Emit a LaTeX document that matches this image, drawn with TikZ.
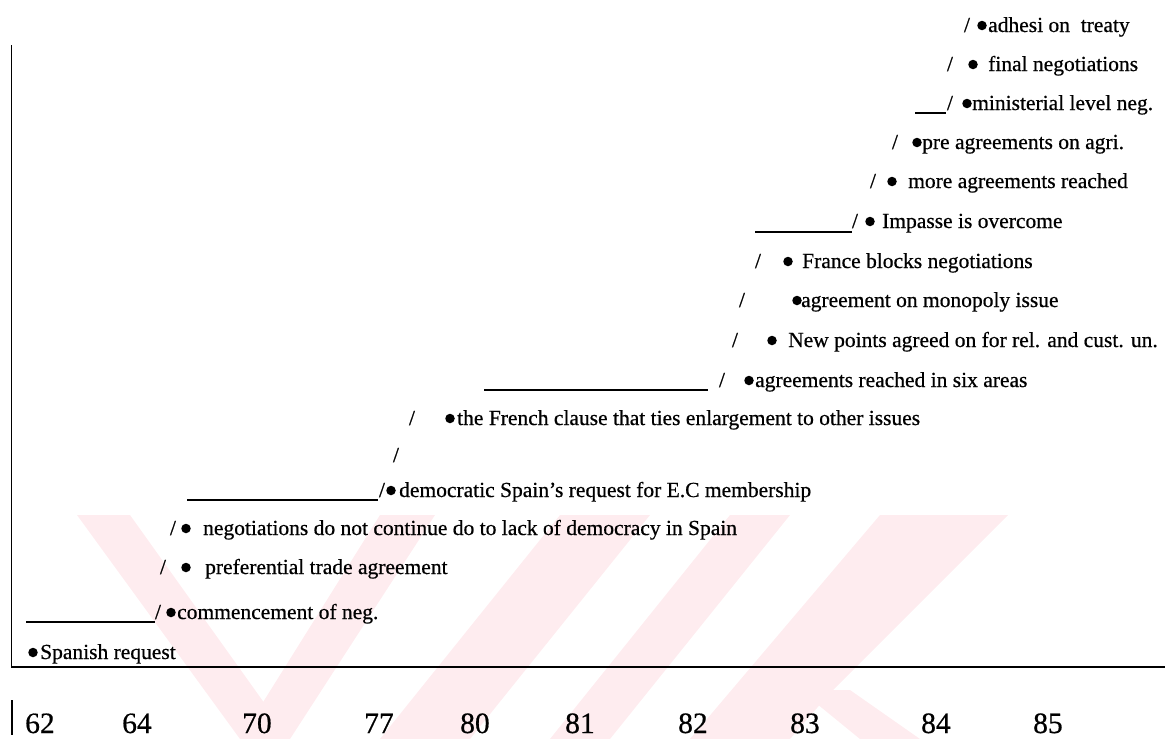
\documentclass[tikz,border=0pt]{standalone}
\usepackage{fontspec}
\setmainfont{Liberation Serif}
\newfontfamily\scanfont{Liberation Serif}[Ligatures=TeX,FakeBold=0.6]
\definecolor{wmpink}{RGB}{254,236,239}
\tikzset{
  lbl/.style={anchor=base west, inner sep=0pt, font=\scanfont\fontsize{21.5}{24}\selectfont},
  slashnode/.style={anchor=base, inner sep=0pt, font=\scanfont\fontsize{21.5}{24}\selectfont},
  dotnode/.style={circle, fill=black, draw=none, inner sep=0pt, minimum size=9.5pt},
  uline/.style={line width=1.4pt},
  yr/.style={anchor=base west, inner sep=0pt, font=\scanfont\fontsize{29.5}{32}\selectfont},
  framel/.style={line width=1.3pt},
  wmark/.style={fill=wmpink, draw=none}
}
\begin{document}
\begin{tikzpicture}[x=1pt,y=-1pt]
\useasboundingbox (0,0) rectangle (1165,739);
% faint watermark bands
\fill[wmark] (77,515) -- (130,515) -- (290,739) -- (240,739) -- cycle;
\fill[wmark] (380,515) -- (435,515) -- (290,739) -- (240,739) -- cycle;
\fill[wmark] (560,515) -- (650,515) -- (470,739) -- (380,739) -- cycle;
\fill[wmark] (730,515) -- (790,515) -- (610,739) -- (550,739) -- cycle;
\fill[wmark] (880,515) -- (1008,515) -- (830,693) -- (790,739) -- (690,739) -- cycle;
\fill[wmark] (800,690) -- (850,690) -- (920,739) -- (860,739) -- cycle;

% frame and axis
\coordinate (ftop) at (11.5,45);
\coordinate (fcorner) at (11.5,667);
\coordinate (fright) at (1165,667);
\draw[framel] (ftop) -- (fcorner) -- (fright);
\coordinate (bartop) at (12,700);
\coordinate (barbot) at (12,735);
\draw[framel] (bartop) -- (barbot);

% event rows: number / centre y / slash x / dot x / text x / text
\foreach \n/\y/\sx/\dx/\tx/\txt in {
  1/25/967/982/988/{adhesi on\ \ treaty},
  2/64/950/973/988/{final negotiations},
  3/103/950/967/972/{ministerial level neg.},
  4/142/895/917/922/{pre agreements on agri.},
  5/181/873/892/908/{more agreements reached},
  6/221/855/870/882/{Impasse is overcome},
  7/261/758/788/802/{France blocks negotiations},
  8/300/742/797/801/{agreement on monopoly issue},
  9/340/735/772/788/{New points agreed on for rel. and cust. un.},
  10/380/722/749/755/{agreements reached in six areas},
  11/418/412/450/457/{the French clause that ties enlargement to other issues},
  13/490/382/391/399/{democratic Spain’s request for E.C membership},
  14/528/173/186/203/{negotiations do not continue do to lack of democracy in Spain},
  15/567/163/186/205/{preferential trade agreement},
  16/612/158/171/177/{commencement of neg.}
}{
  \node[slashnode] (s\n) at (\sx,\y+7) {/};
  \node[dotnode] (d\n) at (\dx,\y+0.5) {};
  \node[lbl] (t\n) at (\tx,\y+7) {\txt};
}
% lone slash
\node[slashnode] (s12) at (396,462) {/};
% first event, no slash
\node[dotnode] (d17) at (33,652.5) {};
\node[lbl] (t17) at (40,659) {Spanish request};

% underlines (typed level lines)
\coordinate (u3a) at (915,113);  \coordinate (u3b) at (946,113);
\coordinate (u6a) at (755,232);  \coordinate (u6b) at (852,232);
\coordinate (u10a) at (484,390); \coordinate (u10b) at (708,390);
\coordinate (u13a) at (187,500); \coordinate (u13b) at (378,500);
\coordinate (u16a) at (26,622);  \coordinate (u16b) at (155,622);
\draw[uline] (u3a) -- (u3b);
\draw[uline] (u6a) -- (u6b);
\draw[uline] (u10a) -- (u10b);
\draw[uline] (u13a) -- (u13b);
\draw[uline] (u16a) -- (u16b);

% years
\node[yr] (y62) at (25,733) {62};
\node[yr] (y64) at (122,733) {64};
\node[yr] (y70) at (242,733) {70};
\node[yr] (y77) at (364,733) {77};
\node[yr] (y80) at (460,733) {80};
\node[yr] (y81) at (565,733) {81};
\node[yr] (y82) at (678,733) {82};
\node[yr] (y83) at (790,733) {83};
\node[yr] (y84) at (921,733) {84};
\node[yr] (y85) at (1033,733) {85};
\end{tikzpicture}
\end{document}
